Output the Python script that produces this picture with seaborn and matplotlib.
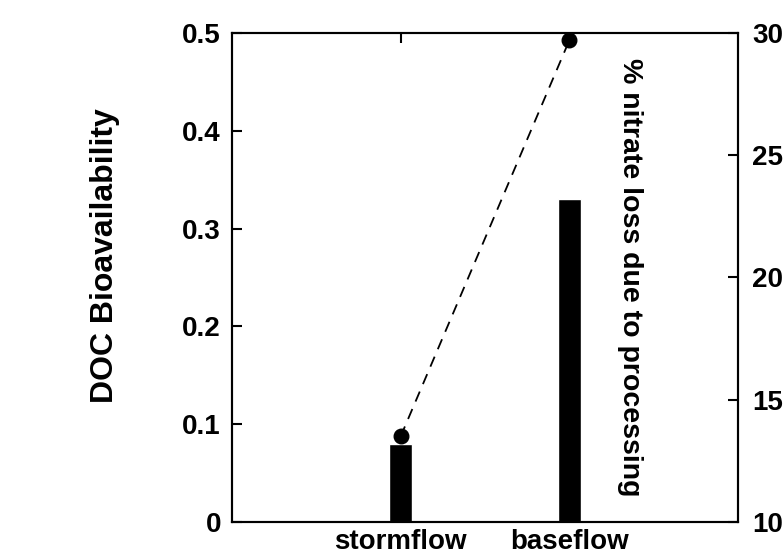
import matplotlib
matplotlib.use("Agg")
import matplotlib.pyplot as plt
import seaborn as sns
import pandas as pd

# values
flow = ["stormflow", "baseflow"]
doc_bioavail = [0.08, 0.33]
nitrate_loss = [13.5, 29.7]

sns.set_style("ticks")
plt.rcParams["font.family"] = ["Liberation Sans", "DejaVu Sans"]
plt.rcParams["font.weight"] = "bold"
plt.rcParams["text.color"] = "black"
plt.rcParams["xtick.color"] = "black"
plt.rcParams["ytick.color"] = "black"
plt.rcParams["axes.labelcolor"] = "black"
plt.rcParams["axes.edgecolor"] = "black"

df = pd.DataFrame({"flow": flow, "doc": doc_bioavail, "nitrate": nitrate_loss})

fig = plt.figure(figsize=(7.84, 5.59), dpi=100)
ax = fig.add_axes([232/784, 1-522/559, 506/784, 489/559])

sns.barplot(data=df, x="flow", y="doc", color="black", width=0.14,
            saturation=1, ax=ax)
ax.set_ylim(0, 0.5)
ax.set_yticks([0, 0.1, 0.2, 0.3, 0.4, 0.5])
ax.set_yticklabels(["0", "0.1", "0.2", "0.3", "0.4", "0.5"])
ax.set_xlim(-1, 2)
ax.set_xlabel("")
ax.set_ylabel("")

# left axis title sits a bit above the axes centre in the reference
fig.text(105/784, 1-256/559, "DOC Bioavailability", rotation=90,
         ha="center", va="center", fontsize=23, fontweight="bold")

ax2 = ax.twinx()
sns.pointplot(data=df, x="flow", y="nitrate", color="black", linestyles="--",
              markers="o", markersize=10.5, linewidth=1.3, ax=ax2)
ax2.set_ylim(10, 30)
ax2.set_yticks([10, 15, 20, 25, 30])
ax2.set_xlim(-1, 2)
ax2.set_ylabel("")
ax2.set_xlabel("")
for l in ax2.lines:
    l.set_dashes([6, 4.5])
    l.set_clip_on(False)
for c in ax2.collections:
    c.set_clip_on(False)

ax2.text(0.787, 0.5, "% nitrate loss due to processing", transform=ax2.transAxes,
         rotation=-90, ha="center", va="center", fontsize=20.5, fontweight="bold")

for a in (ax, ax2):
    for s in a.spines.values():
        s.set_linewidth(1.5)
        s.set_visible(True)
    a.tick_params(direction="in", length=7, width=1.5, labelsize=20, pad=8)
ax.tick_params(axis="x", top=True, bottom=False, pad=5)
ax2.tick_params(axis="x", top=False, bottom=False)
ax2.tick_params(axis="y", pad=10)
for t in ax.get_xticklabels() + ax.get_yticklabels() + ax2.get_yticklabels():
    t.set_fontweight("bold")

fig.savefig("out.png", dpi=100)
